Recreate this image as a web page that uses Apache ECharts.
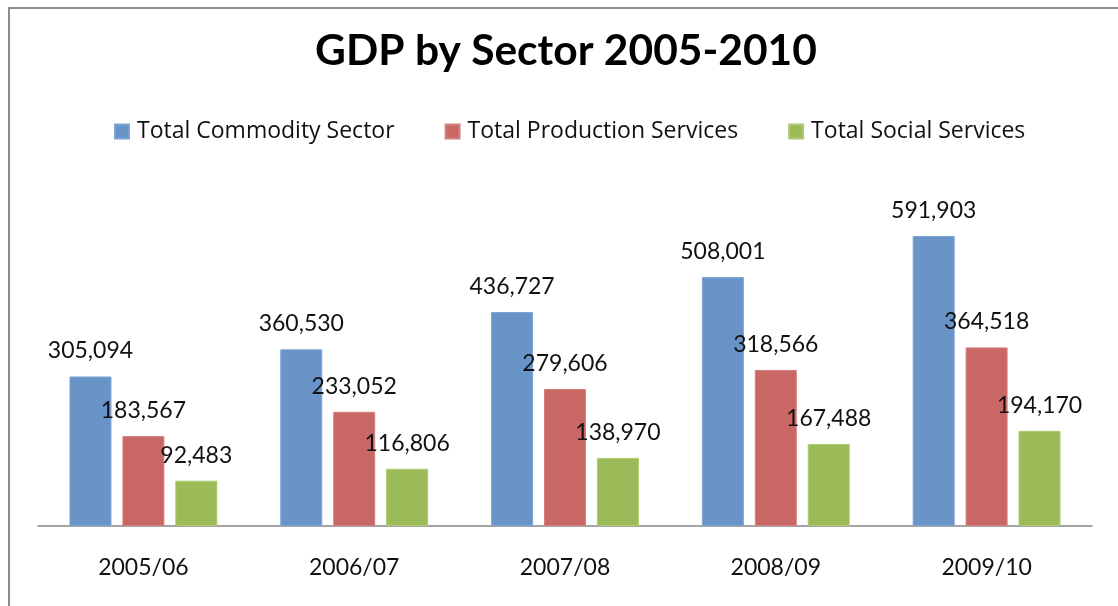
<!DOCTYPE html>
<html>
<head>
<meta charset="utf-8">
<script src="https://cdn.jsdelivr.net/npm/echarts@6/dist/echarts.min.js"></script>
<style>
  html, body { margin: 0; padding: 0; background: #ffffff; }
  #chart { width: 1118px; height: 606px; }
</style>
</head>
<body>
<div id="chart"></div>
<script>
// GDP by sector, fiscal years 2005/06 to 2009/10
const categories = ['2005/06', '2006/07', '2007/08', '2008/09', '2009/10'];
const commodity = [305094, 360530, 436727, 508001, 591903];
const production = [183567, 233052, 279606, 318566, 364518];
const social = [92483, 116806, 138970, 167488, 194170];

const FONT = 'Lato, "Open Sans", sans-serif';
const fmt = (p) => p.value.toLocaleString('en-US');

function barSeries(name, data, color, border) {
  return {
    name: name,
    type: 'bar',
    data: data,
    barWidth: 42,
    barGap: '26%',
    itemStyle: { color: color, borderColor: border, borderWidth: 1 },
    label: {
      show: true,
      position: 'top',
      distance: 14,
      formatter: fmt,
      color: '#111111',
      fontFamily: FONT,
      fontSize: 23
    }
  };
}

const chart = echarts.init(document.getElementById('chart'));
chart.setOption({
  animation: false,
  backgroundColor: '#ffffff',
  title: {
    text: 'GDP by Sector 2005-2010',
    left: 561,
    textAlign: 'center',
    top: 25,
    textStyle: { fontFamily: FONT, fontWeight: 'bold', fontSize: 42.5, color: '#000000' }
  },
  legend: {
    top: 120,
    left: 114,
    padding: 0,
    itemWidth: 14,
    itemHeight: 14,
    itemGap: 50,
    icon: 'rect',
    textStyle: { fontFamily: '"Open Sans", Lato, sans-serif', fontSize: 23, color: '#111111', padding: [0, 0, 0, 3] },
    data: ['Total Commodity Sector', 'Total Production Services', 'Total Social Services']
  },
  grid: { left: 38, right: 26, top: 183, bottom: 80 },
  xAxis: {
    type: 'category',
    data: categories,
    axisLine: { lineStyle: { color: '#868686', width: 1.5 } },
    axisTick: { show: false },
    axisLabel: { margin: 30, fontFamily: FONT, fontSize: 23, color: '#111111' }
  },
  yAxis: {
    type: 'value',
    min: 0,
    max: 700000,
    show: false,
    splitLine: { show: false }
  },
  graphic: [{
    type: 'polyline',
    shape: { points: [[9, 620], [9, 8], [1130, 8]] },
    style: { stroke: '#8c8c8c', lineWidth: 2, fill: null },
    silent: true
  }],
  series: [
    barSeries('Total Commodity Sector', commodity, '#6894c8', '#7fa4d3'),
    barSeries('Total Production Services', production, '#c96765', '#d6817f'),
    barSeries('Total Social Services', social, '#9bbb59', '#aecb74')
  ]
});
</script>
</body>
</html>
